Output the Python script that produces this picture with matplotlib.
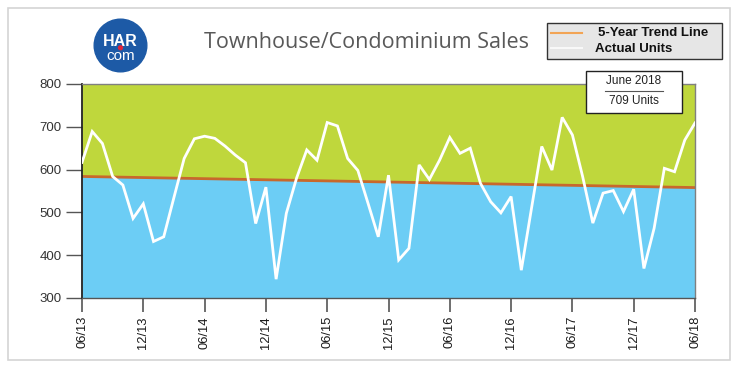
import numpy as np
import pandas as pd
import matplotlib
matplotlib.use("Agg")
import matplotlib.pyplot as plt
import matplotlib.patches as mpatches
from matplotlib.lines import Line2D

# monthly townhouse/condo sales, 06/2013 .. 06/2018
units = [617, 689, 661, 584, 564, 486, 520, 432, 443, 535,
         626, 672, 678, 673, 655, 634, 616, 474, 559, 344,
         498, 580, 646, 622, 710, 702, 626, 598, 521, 443,
         587, 389, 416, 611, 577, 622, 675, 638, 650, 568,
         525, 499, 537, 365, 510, 654, 599, 722, 681, 584,
         475, 545, 551, 502, 554, 369, 463, 603, 595, 669,
         709]
trend_ends = [584, 558]   # 5-year trend line, first and last month
tick_labels = ["06/13", "12/13", "06/14", "12/14", "06/15", "12/15",
               "06/16", "12/16", "06/17", "12/17", "06/18"]
y_ticks = [300, 400, 500, 600, 700, 800]

months = pd.date_range("2013-06-01", periods=len(units), freq="MS")
x = np.arange(len(units))
x_trend = [x[0], x[-1]]

W, H = 750, 373
fig = plt.figure(figsize=(W / 100, H / 100), dpi=100)
fig.patch.set_facecolor("white")

def fx(px):
    return px / W

def fy(py):
    return 1 - py / H

# outer light frame
fig.patches.append(mpatches.Rectangle((fx(8), fy(360)), fx(722), (352) / H,
                                      transform=fig.transFigure, fill=False,
                                      edgecolor="#d4d4d4", lw=1.2))

ax = fig.add_axes([fx(82), fy(298), fx(695 - 82), (298 - 84) / H])
ax.fill_between(x_trend, [300, 300], trend_ends, color="#6ccdf5", lw=0, zorder=1)
ax.fill_between(x_trend, trend_ends, [800, 800], color="#bfd73c", lw=0, zorder=1)
ax.plot(x_trend, trend_ends, color="#c8682c", lw=2, zorder=2)
ax.plot(x, units, color="white", lw=2, zorder=3, solid_joinstyle="miter")

ax.set_xlim(0, len(units) - 1)
ax.set_ylim(300, 800)
ax.set_yticks(y_ticks)
ax.set_yticklabels([str(v) for v in y_ticks], fontsize=9.5, color="#333333",
                   family="Liberation Sans")
ax.set_xticks(x[::6])
ax.set_xticklabels(tick_labels, rotation=90, fontsize=9.3, color="#1a1a1a",
                   family="Liberation Sans")
ax.tick_params(axis="y", length=11.5, width=1, color="#555555", pad=3)
ax.tick_params(axis="x", length=10, width=1.2, color="#555555", pad=3)
for side in ["top", "right"]:
    ax.spines[side].set_color("#808080")
    ax.spines[side].set_linewidth(1)
ax.spines["left"].set_color("#222222")
ax.spines["left"].set_linewidth(1.3)
ax.spines["bottom"].set_color("#555555")
ax.spines["bottom"].set_linewidth(1)

# title
fig.text(fx(366.5), fy(42), "Townhouse/Condominium Sales", ha="center", va="center",
         fontsize=15.5, color="#595959", family="Open Sans")

# HAR.com logo
lax = fig.add_axes([fx(120.5 - 28), fy(45.5 + 28), fx(56), 56 / H])
lax.set_xlim(0, 1)
lax.set_ylim(0, 1)
lax.axis("off")
lax.add_patch(mpatches.Circle((0.5, 0.5), 0.47, color="#1d5aa6"))
lax.text(0.5, 0.49, "HAR", ha="center", va="baseline", color="white",
         fontsize=11.5, fontweight="bold", family="Liberation Sans")
lax.text(0.5, 0.25, "com", ha="center", va="baseline", color="white",
         fontsize=11, family="Liberation Sans")
lax.add_patch(mpatches.Circle((0.5, 0.46), 0.035, color="#e0263b"))

# legend box
fig.patches.append(mpatches.Rectangle((fx(547), fy(59)), fx(722 - 547), (59 - 23) / H,
                                      transform=fig.transFigure, facecolor="#e6e6e6",
                                      edgecolor="#333333", lw=1))
fig.lines.append(Line2D([fx(551), fx(582)], [fy(33), fy(33)], transform=fig.transFigure,
                        color="#f2a455", lw=1.5))
fig.lines.append(Line2D([fx(551), fx(582)], [fy(48), fy(48)], transform=fig.transFigure,
                        color="#f8f8f8", lw=1.5))
fig.text(fx(598), fy(33), "5-Year Trend Line", ha="left", va="center", fontsize=9.5,
         fontweight="bold", color="#111111", family="Liberation Sans")
fig.text(fx(595), fy(48.5), "Actual Units", ha="left", va="center", fontsize=9.5,
         fontweight="bold", color="#111111", family="Liberation Sans")

# latest value box
fig.patches.append(mpatches.Rectangle((fx(586), fy(113)), fx(682 - 586), (113 - 71) / H,
                                      transform=fig.transFigure, facecolor="white",
                                      edgecolor="#222222", lw=1, zorder=5))
fig.lines.append(Line2D([fx(605), fx(663)], [fy(91), fy(91)], transform=fig.transFigure,
                        color="#555555", lw=0.8, zorder=6))
fig.text(fx(634), fy(80.5), months[-1].strftime("%B %Y"), ha="center", va="center",
         fontsize=8.5, color="#222222", family="Liberation Sans", zorder=6)
fig.text(fx(634), fy(101.5), f"{units[-1]} Units", ha="center", va="center",
         fontsize=8.5, color="#222222", family="Liberation Sans", zorder=6)

fig.savefig("out.png", dpi=100)
